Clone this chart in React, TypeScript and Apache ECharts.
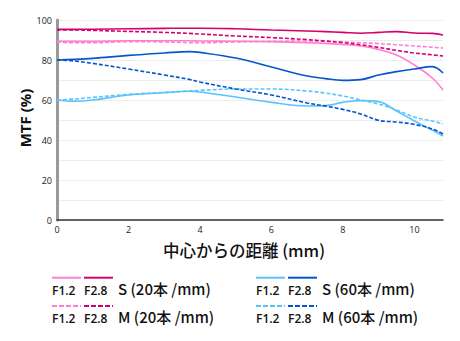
import React, { useEffect, useRef } from "react";
import * as echarts from "echarts";

const xs = [0, 0.5, 1, 2, 3, 3.7, 4, 5, 6, 7, 7.5, 8, 8.5, 9, 9.5, 10, 10.5, 10.8];

const s20F12 = [89.5, 89.3, 89.3, 89.6, 89.6, 89.6, 89.5, 89.4, 89.2, 88.7, 88.3, 87.8, 87, 85.3, 82.5, 77.5, 71, 65];
const s20F28 = [95.3, 95.3, 95.4, 95.6, 95.8, 95.9, 95.9, 95.6, 95, 94.5, 94.2, 93.8, 93.4, 93.8, 94.2, 93.5, 93.3, 92.5];
const m20F12 = [89, 88.6, 88.6, 89.2, 89, 88.7, 88.6, 89, 89.3, 89.5, 89.3, 89, 88.6, 88.2, 87.6, 87, 86.4, 86];
const m20F28 = [95, 95, 94.8, 94.3, 93.8, 93.3, 93, 92, 91.2, 90.2, 89.5, 88.7, 87.6, 86.3, 84.8, 83.5, 82.6, 82];
const s60F12 = [60, 59.4, 60, 62.5, 63.6, 64.4, 64, 61.5, 58.8, 57, 57.2, 58.8, 59.7, 59.2, 54.5, 49.5, 45, 42];
const s60F28 = [80, 80.3, 80.8, 82.3, 83.5, 84.2, 83.8, 81, 76.5, 72, 70.7, 69.8, 70.2, 72.5, 74.2, 75.5, 76.7, 73.5];
const m60F12 = [60, 60.5, 61.3, 62.8, 63.8, 64.5, 64.8, 65.5, 65.5, 64.5, 63.5, 62, 60, 58, 55, 51.5, 49.5, 48];
const m60F28 = [80, 79.5, 78.3, 75.5, 72.5, 70.3, 69, 65.5, 62.5, 58.5, 57, 55.3, 53, 49.8, 49, 47.8, 45.5, 43];

const PINK = "#ff7fcf";
const MAGENTA = "#d5006d";
const LBLUE = "#5bc3fb";
const DBLUE = "#0556cc";

const FONT = "'Open Sans', 'Noto Sans CJK JP', sans-serif";
const CJK = "'Noto Sans CJK JP', sans-serif";

const pairs = (ys: number[]) => xs.map((x, i) => [x, ys[i]]);

function mkSeries(name: string, ys: number[], color: string, dashed: boolean) {
  return {
    name,
    type: "line",
    data: pairs(ys),
    smooth: 0.4,
    showSymbol: false,
    symbol: "none",
    lineStyle: { color, width: 1.6, type: dashed ? [4, 2] : "solid" },
    z: 3,
  };
}

function legendGroup(x: number, c1: string, c2: string, label1: string, label2: string) {
  const els: any[] = [];
  const rows = [
    { ly: 277.7, ty: 290, label: label1, dash: null as any },
    { ly: 306, ty: 318, label: label2, dash: [5, 2] },
  ];
  rows.forEach((r) => {
    els.push({
      type: "line",
      shape: { x1: x, y1: r.ly, x2: x + 29, y2: r.ly },
      style: { stroke: c1, lineWidth: 2, lineDash: r.dash },
    });
    els.push({
      type: "line",
      shape: { x1: x + 32, y1: r.ly, x2: x + 61, y2: r.ly },
      style: { stroke: c2, lineWidth: 2, lineDash: r.dash },
    });
    els.push({
      type: "text",
      x: x,
      y: r.ty,
      style: { text: "F1.2", fontSize: 12, fontWeight: 600, fontFamily: FONT, fill: "#111", verticalAlign: "middle", align: "left" },
    });
    els.push({
      type: "text",
      x: x + 32,
      y: r.ty,
      style: { text: "F2.8", fontSize: 12, fontWeight: 600, fontFamily: FONT, fill: "#111", verticalAlign: "middle", align: "left" },
    });
    els.push({
      type: "text",
      x: x + 66,
      y: r.ty - 2,
      style: { text: r.label, fontSize: 15, fontWeight: 500, fontFamily: CJK, fill: "#111", verticalAlign: "middle", align: "left" },
    });
  });
  return els;
}

export default function App() {
  const ref = useRef<HTMLDivElement>(null);
  useEffect(() => {
    if (!ref.current) return;
    const chart = echarts.init(ref.current, null, { renderer: "svg" });
    chart.setOption({
      animation: false,
      backgroundColor: "#fff",
      grid: { left: 57, right: 17, top: 20, bottom: 121, containLabel: false },
      xAxis: {
        type: "value",
        min: 0,
        max: 10.8,
        interval: 2,
        axisLine: { show: true, lineStyle: { color: "#333", width: 1.5 } },
        axisTick: { show: false },
        splitLine: { show: false },
        axisLabel: { fontSize: 9, color: "#222", fontFamily: FONT, margin: 5, showMaxLabel: false },
      },
      yAxis: {
        type: "value",
        min: 0,
        max: 100,
        interval: 10,
        axisLine: { show: true, lineStyle: { color: "#9a9a9a", width: 3 } },
        axisTick: { show: false },
        splitLine: { show: true, lineStyle: { color: "#ececec", width: 1 } },
        axisLabel: {
          fontSize: 9,
          color: "#222",
          fontFamily: FONT,
          margin: 5,
          formatter: (v: number) => (v % 20 === 0 ? String(v) : ""),
        },
      },
      series: [
        mkSeries("M F1.2 (20)", m20F12, PINK, true),
        mkSeries("S F1.2 (20)", s20F12, PINK, false),
        mkSeries("M F2.8 (20)", m20F28, MAGENTA, true),
        mkSeries("S F2.8 (20)", s20F28, MAGENTA, false),
        mkSeries("M F1.2 (60)", m60F12, LBLUE, true),
        mkSeries("S F1.2 (60)", s60F12, LBLUE, false),
        mkSeries("M F2.8 (60)", m60F28, DBLUE, true),
        mkSeries("S F2.8 (60)", s60F28, DBLUE, false),
      ],
      graphic: [
        {
          type: "text",
          x: 25,
          y: 118,
          rotation: Math.PI / 2,
          style: {
            text: "MTF (%)",
            fontSize: 15,
            fontWeight: "bold",
            fontFamily: FONT,
            fill: "#111",
            align: "center",
            verticalAlign: "middle",
          },
        },
        {
          type: "text",
          x: 244,
          y: 250,
          style: {
            text: "中心からの距離 (mm)",
            fontSize: 16.5,
            fontWeight: 500,
            fontFamily: CJK,
            fill: "#111",
            align: "center",
            verticalAlign: "middle",
          },
        },
        ...legendGroup(52, PINK, MAGENTA, "S (20本 /mm)", "M (20本 /mm)"),
        ...legendGroup(256, LBLUE, DBLUE, "S (60本 /mm)", "M (60本 /mm)"),
      ],
    });
    return () => chart.dispose();
  }, []);
  return <div ref={ref} style={{ width: 460, height: 341, position: "absolute", left: 0, top: 0 }} />;
}
